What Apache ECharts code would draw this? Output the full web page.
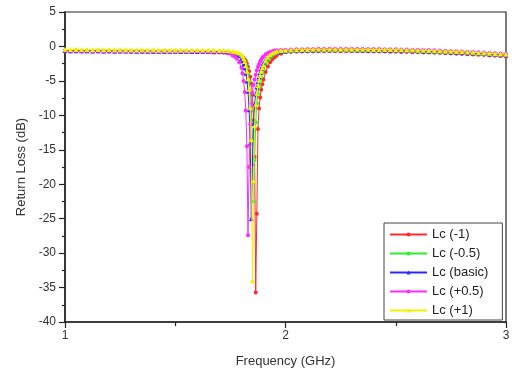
<!DOCTYPE html>
<html>
<head>
<meta charset="utf-8">
<script src="https://cdn.jsdelivr.net/npm/echarts@6/dist/echarts.min.js"></script>
<style>html,body{margin:0;padding:0;background:#fff}#c{width:522px;height:368px}</style>
</head>
<body>
<div id="c"></div>
<script>
// Frequency samples (GHz)
const freq = [
  1.000,1.025,1.050,1.075,1.100,1.125,1.150,1.175,1.200,1.225,1.250,1.275,1.300,1.325,1.350,1.375,1.400,1.425,1.450,1.475,1.500,1.525,1.550,1.575,1.600,1.625,1.650,1.675,1.700,
  1.72,1.74,1.76,1.77,1.78,1.79,1.800,1.805,1.810,1.815,1.820,1.825,1.830,1.835,1.840,1.845,1.850,1.855,1.860,1.865,1.870,1.875,1.880,1.885,1.890,1.895,1.900,1.91,1.92,1.93,1.94,1.95,1.96,1.98,
  2.000,2.025,2.050,2.075,2.100,2.125,2.150,2.175,2.200,2.225,2.250,2.275,2.300,2.325,2.350,2.375,2.400,2.425,2.450,2.475,2.500,2.525,2.550,2.575,2.600,2.625,2.650,2.675,2.700,2.725,2.750,2.775,2.800,2.825,2.850,2.875,2.900,2.925,2.950,2.975,3.000
];
const seriesNames = ['Lc (-1)', 'Lc (-0.5)', 'Lc (basic)', 'Lc (+0.5)', 'Lc (+1)'];
const lcMinus1 = [
  -0.7,-0.72,-0.7,-0.74,-0.71,-0.73,-0.75,-0.72,-0.74,-0.76,-0.73,-0.75,-0.77,-0.74,-0.76,-0.78,-0.75,-0.77,-0.79,-0.76,-0.78,-0.8,-0.78,-0.8,-0.82,-0.8,-0.83,-0.85,-0.87,
  -0.9,-0.95,-1.05,-1.1,-1.2,-1.3,-1.45,-1.55,-1.7,-1.85,-2.1,-2.5,-3.0,-3.6,-4.4,-5.4,-7.0,-10.7,-16,-35.7,-24.3,-12,-9.0,-7.4,-6.3,-5.5,-4.8,-3.7,-2.9,-2.3,-1.9,-1.6,-1.35,-1.05,
  -0.85,-0.8,-0.77,-0.75,-0.73,-0.72,-0.71,-0.7,-0.7,-0.69,-0.69,-0.7,-0.7,-0.71,-0.71,-0.72,-0.73,-0.74,-0.75,-0.76,-0.78,-0.79,-0.81,-0.83,-0.85,-0.87,-0.89,-0.92,-0.95,-0.98,-1.01,-1.05,-1.08,-1.12,-1.16,-1.2,-1.25,-1.3,-1.35,-1.4,-1.45
];
const lcMinus05 = [
  -0.58,-0.6,-0.57,-0.61,-0.59,-0.62,-0.6,-0.63,-0.61,-0.64,-0.62,-0.65,-0.63,-0.66,-0.64,-0.66,-0.65,-0.67,-0.65,-0.68,-0.66,-0.68,-0.67,-0.69,-0.68,-0.7,-0.7,-0.72,-0.73,
  -0.75,-0.8,-0.9,-0.95,-1.05,-1.15,-1.35,-1.55,-1.8,-2.2,-2.7,-3.2,-4.0,-5.1,-6.6,-9.3,-13.5,-22.5,-16.5,-11,-8.3,-6.9,-5.9,-5.2,-4.5,-3.9,-3.3,-2.5,-2.0,-1.6,-1.35,-1.15,-1.0,-0.85,
  -0.78,-0.72,-0.68,-0.65,-0.63,-0.61,-0.6,-0.59,-0.58,-0.58,-0.57,-0.58,-0.58,-0.59,-0.59,-0.6,-0.61,-0.62,-0.63,-0.64,-0.66,-0.67,-0.69,-0.71,-0.73,-0.75,-0.77,-0.8,-0.83,-0.86,-0.89,-0.93,-0.96,-1.0,-1.04,-1.08,-1.13,-1.18,-1.23,-1.28,-1.33
];
const lcBasic = [
  -0.6,-0.63,-0.61,-0.64,-0.62,-0.65,-0.63,-0.66,-0.64,-0.66,-0.65,-0.67,-0.66,-0.68,-0.67,-0.69,-0.68,-0.7,-0.69,-0.71,-0.7,-0.72,-0.71,-0.73,-0.72,-0.74,-0.74,-0.76,-0.75,
  -0.75,-0.85,-0.95,-1.05,-1.15,-1.35,-1.75,-2.1,-2.6,-3.1,-3.9,-5.0,-6.5,-9.2,-14,-25,-17,-11.2,-8.4,-6.9,-5.9,-5.1,-4.4,-3.8,-3.2,-2.8,-2.4,-1.9,-1.5,-1.25,-1.05,-0.9,-0.8,-0.7,
  -0.65,-0.6,-0.56,-0.54,-0.52,-0.51,-0.5,-0.49,-0.49,-0.48,-0.48,-0.49,-0.49,-0.5,-0.5,-0.51,-0.52,-0.53,-0.54,-0.55,-0.57,-0.58,-0.6,-0.62,-0.64,-0.66,-0.68,-0.71,-0.74,-0.77,-0.8,-0.84,-0.87,-0.91,-0.95,-0.99,-1.04,-1.09,-1.14,-1.19,-1.24
];
const lcPlus05 = [
  -0.62,-0.66,-0.63,-0.67,-0.64,-0.68,-0.65,-0.69,-0.66,-0.7,-0.67,-0.7,-0.68,-0.71,-0.69,-0.72,-0.7,-0.73,-0.71,-0.73,-0.72,-0.74,-0.73,-0.75,-0.74,-0.76,-0.76,-0.77,-0.79,
  -0.8,-1.0,-1.3,-1.5,-1.8,-2.3,-3.1,-3.9,-5.0,-6.6,-9.3,-14.5,-27.4,-17.5,-11.3,-8.3,-6.7,-5.6,-4.8,-4.1,-3.5,-3.0,-2.6,-2.2,-1.9,-1.65,-1.45,-1.15,-0.95,-0.8,-0.7,-0.6,-0.55,-0.5,
  -0.48,-0.44,-0.41,-0.39,-0.37,-0.36,-0.35,-0.34,-0.34,-0.33,-0.33,-0.34,-0.34,-0.35,-0.35,-0.36,-0.37,-0.38,-0.39,-0.4,-0.42,-0.43,-0.45,-0.47,-0.49,-0.51,-0.53,-0.56,-0.59,-0.62,-0.65,-0.69,-0.72,-0.76,-0.8,-0.84,-0.89,-0.94,-0.99,-1.04,-1.09
];
const lcPlus1 = [
  -0.42,-0.45,-0.43,-0.46,-0.44,-0.47,-0.45,-0.48,-0.46,-0.48,-0.47,-0.49,-0.48,-0.5,-0.49,-0.5,-0.49,-0.51,-0.5,-0.51,-0.5,-0.52,-0.51,-0.52,-0.52,-0.53,-0.53,-0.54,-0.54,
  -0.55,-0.6,-0.7,-0.75,-0.85,-0.95,-1.15,-1.4,-1.75,-2.2,-2.8,-3.6,-4.7,-6.2,-8.9,-13.5,-34,-19.5,-11.5,-8.4,-6.8,-5.7,-4.9,-4.2,-3.6,-3.1,-2.7,-2.0,-1.55,-1.2,-1.0,-0.85,-0.7,-0.6,
  -0.55,-0.5,-0.47,-0.45,-0.43,-0.42,-0.41,-0.4,-0.4,-0.39,-0.39,-0.4,-0.4,-0.41,-0.41,-0.42,-0.43,-0.44,-0.45,-0.46,-0.48,-0.49,-0.51,-0.53,-0.55,-0.57,-0.59,-0.62,-0.65,-0.68,-0.71,-0.75,-0.78,-0.82,-0.86,-0.9,-0.95,-1.0,-1.05,-1.1,-1.15
];
const xTicks = [1, 2, 3];
const yTicks = [-40, -35, -30, -25, -20, -15, -10, -5, 0, 5];

const valueSets = [lcMinus1, lcMinus05, lcBasic, lcPlus05, lcPlus1];
const colors = ['#ff2a2a', '#2aee2a', '#2a2aff', '#ff2aff', '#f2f200'];
const symbols = ['circle', 'circle', 'triangle', 'circle', 'triangle'];

function pairs(vals) {
  const n = Math.min(freq.length, vals.length);
  const out = [];
  for (let i = 0; i < n; i++) out.push([freq[i], vals[i]]);
  return out;
}

const chart = echarts.init(document.getElementById('c'), null, {renderer: 'canvas'});
const font = 'Liberation Sans, Arial, sans-serif';
chart.setOption({
  animation: false,
  backgroundColor: '#fff',
  grid: {left: 65, right: 16, top: 12, bottom: 46, show: true, borderColor: '#222', borderWidth: 1.2,
         backgroundColor: 'transparent', outerBoundsMode: 'none', containLabel: false},
  legend: {
    orient: 'vertical', left: 384, top: 223,
    itemWidth: 37, itemHeight: 5, itemGap: 6,
    padding: [5, 14, 3, 5],
    borderColor: '#444', borderWidth: 1, backgroundColor: '#fff',
    textStyle: {fontFamily: font, fontSize: 13, color: '#222'},
    data: seriesNames
  },
  xAxis: {
    type: 'value', min: xTicks[0], max: xTicks[xTicks.length - 1], interval: 1,
    name: 'Frequency (GHz)', nameLocation: 'middle', nameGap: 33,
    nameTextStyle: {fontFamily: font, fontSize: 13, color: '#333'},
    axisLine: {onZero: false, lineStyle: {color: '#222', width: 1.5}},
    axisTick: {length: 6, lineStyle: {color: '#222', width: 1.2}},
    minorTick: {show: true, splitNumber: 2, length: 4, lineStyle: {color: '#222', width: 1.2}},
    axisLabel: {fontFamily: font, fontSize: 12, color: '#333', margin: 8},
    splitLine: {show: false}
  },
  yAxis: {
    type: 'value', min: yTicks[0], max: yTicks[yTicks.length - 1], interval: 5,
    name: 'Return Loss (dB)', nameLocation: 'middle', nameGap: 37,
    nameTextStyle: {fontFamily: font, fontSize: 13, color: '#333'},
    axisLine: {show: true, onZero: false, lineStyle: {color: '#222', width: 1.5}},
    axisTick: {show: true, length: 6, lineStyle: {color: '#222', width: 1.2}},
    minorTick: {show: true, splitNumber: 2, length: 3, lineStyle: {color: '#222', width: 1.2}},
    axisLabel: {fontFamily: font, fontSize: 12, color: '#333', margin: 9},
    splitLine: {show: false}
  },
  series: seriesNames.map((name, k) => ({
    name: name, type: 'line', data: pairs(valueSets[k]),
    symbol: symbols[k], symbolSize: k === 2 || k === 4 ? 5 : 4, showAllSymbol: true,
    itemStyle: {color: colors[k], borderWidth: 0},
    lineStyle: {color: colors[k], width: 1},
    z: 2 + k
  }))
});
</script>
</body>
</html>
